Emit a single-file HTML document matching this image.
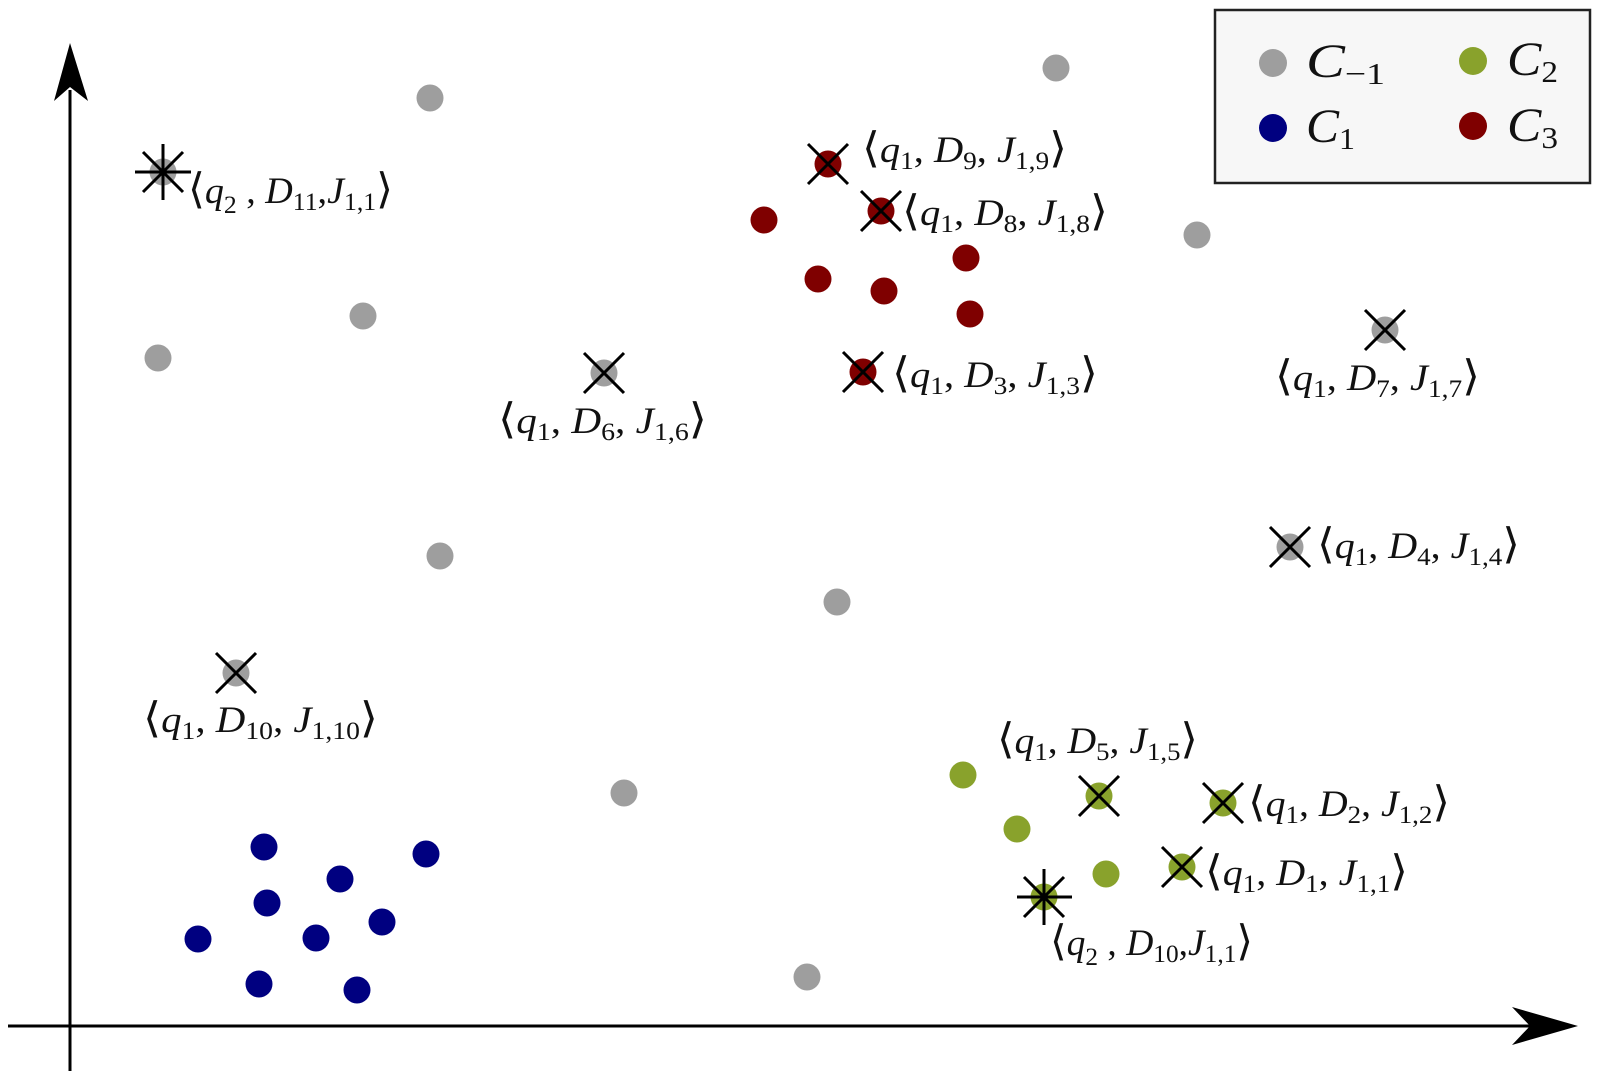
<!DOCTYPE html>
<html>
<head>
<meta charset="utf-8">
<style>
  html,body{margin:0;padding:0;background:#fff;}
  svg{display:block;}
  text{font-family:"Liberation Serif","DejaVu Serif",serif;font-size:37px;fill:#111;}
  .i{font-style:italic;}
  .s{font-size:25px;}
  .b{font-size:42px;}
  .L{font-size:48px;}
  .Ls{font-size:31px;}
</style>
</head>
<body>
<svg width="1600" height="1082" viewBox="0 0 1600 1082" xmlns="http://www.w3.org/2000/svg">
  <rect width="1600" height="1082" fill="#fff"/>

  <!-- Axes -->
  <line x1="70" y1="1071" x2="70" y2="90" stroke="#000" stroke-width="3"/>
  <polygon points="70,43 88,101 70,87 54,101" fill="#000"/>
  <line x1="8" y1="1026" x2="1535" y2="1026" stroke="#000" stroke-width="3"/>
  <polygon points="1578,1026 1512,1045 1530,1026 1512,1007" fill="#000"/>

  <!-- Legend -->
  <rect x="1215" y="10" width="375" height="173" fill="#f7f7f7" stroke="#222" stroke-width="2.5"/>
  <circle cx="1273" cy="63" r="14" fill="#9e9e9e"/>
  <circle cx="1473" cy="61" r="14" fill="#89a22c"/>
  <circle cx="1273" cy="128" r="14" fill="#000080"/>
  <circle cx="1473" cy="126" r="14" fill="#7f0000"/>
  <text x="1306" y="77" class="L" textLength="79" lengthAdjust="spacingAndGlyphs"><tspan class="i">C</tspan><tspan class="Ls" dy="7">−1</tspan></text>
  <text x="1507" y="75" class="L" textLength="51" lengthAdjust="spacingAndGlyphs"><tspan class="i">C</tspan><tspan class="Ls" dy="7">2</tspan></text>
  <text x="1306" y="142" class="L" textLength="49" lengthAdjust="spacingAndGlyphs"><tspan class="i">C</tspan><tspan class="Ls" dy="7">1</tspan></text>
  <text x="1507" y="141" class="L" textLength="51" lengthAdjust="spacingAndGlyphs"><tspan class="i">C</tspan><tspan class="Ls" dy="7">3</tspan></text>

  <!-- Gray points -->
  <g fill="#9e9e9e">
    <circle cx="430" cy="98" r="13.5"/>
    <circle cx="1056" cy="68" r="13.5"/>
    <circle cx="363" cy="316" r="13.5"/>
    <circle cx="158" cy="358" r="13.5"/>
    <circle cx="1197" cy="235" r="13.5"/>
    <circle cx="440" cy="556" r="13.5"/>
    <circle cx="837" cy="602" r="13.5"/>
    <circle cx="624" cy="793" r="13.5"/>
    <circle cx="807" cy="977" r="13.5"/>
    <circle cx="604" cy="373" r="13.5"/>
    <circle cx="1385" cy="330" r="13.5"/>
    <circle cx="1290" cy="547" r="13.5"/>
    <circle cx="236" cy="673" r="13.5"/>
    <circle cx="163" cy="172" r="13.5"/>
  </g>

  <!-- Red points -->
  <g fill="#7f0000">
    <circle cx="828" cy="164" r="13.5"/>
    <circle cx="881" cy="211" r="13.5"/>
    <circle cx="764" cy="220" r="13.5"/>
    <circle cx="966" cy="258" r="13.5"/>
    <circle cx="818" cy="279" r="13.5"/>
    <circle cx="884" cy="291" r="13.5"/>
    <circle cx="970" cy="314" r="13.5"/>
    <circle cx="863" cy="372" r="13.5"/>
  </g>

  <!-- Green points -->
  <g fill="#89a22c">
    <circle cx="963" cy="775" r="13.5"/>
    <circle cx="1099" cy="796" r="13.5"/>
    <circle cx="1223" cy="803" r="13.5"/>
    <circle cx="1017" cy="829" r="13.5"/>
    <circle cx="1106" cy="874" r="13.5"/>
    <circle cx="1182" cy="867" r="13.5"/>
    <circle cx="1044" cy="897" r="13.5"/>
  </g>

  <!-- Blue points -->
  <g fill="#000080">
    <circle cx="264" cy="847" r="13.5"/>
    <circle cx="426" cy="854" r="13.5"/>
    <circle cx="340" cy="879" r="13.5"/>
    <circle cx="267" cy="903" r="13.5"/>
    <circle cx="382" cy="922" r="13.5"/>
    <circle cx="198" cy="939" r="13.5"/>
    <circle cx="316" cy="938" r="13.5"/>
    <circle cx="259" cy="984" r="13.5"/>
    <circle cx="357" cy="990" r="13.5"/>
  </g>

  <!-- X markers -->
  <g stroke="#000" stroke-width="3" fill="none">
    <path d="M808,144 L848,184 M848,144 L808,184"/>
    <path d="M861,191 L901,231 M901,191 L861,231"/>
    <path d="M843,352 L883,392 M883,352 L843,392"/>
    <path d="M584,353 L624,393 M624,353 L584,393"/>
    <path d="M1365,310 L1405,350 M1405,310 L1365,350"/>
    <path d="M1270,527 L1310,567 M1310,527 L1270,567"/>
    <path d="M216,653 L256,693 M256,653 L216,693"/>
    <path d="M1079,776 L1119,816 M1119,776 L1079,816"/>
    <path d="M1203,783 L1243,823 M1243,783 L1203,823"/>
    <path d="M1162,847 L1202,887 M1202,847 L1162,887"/>
    <!-- star markers -->
    <path d="M135,172 L191,172 M163,144 L163,200 M143,152 L183,192 M183,152 L143,192"/>
    <path d="M1017,897 L1072,897 M1044,869 L1044,925 M1024,877 L1064,917 M1064,877 L1024,917"/>
  </g>

  <!-- Labels -->
  <text x="188" y="203" textLength="205" lengthAdjust="spacingAndGlyphs"><tspan class="b">⟨</tspan><tspan class="i">q</tspan><tspan class="s" dy="10">2</tspan><tspan dy="-10"> , </tspan><tspan class="i">D</tspan><tspan class="s" dy="7">11</tspan><tspan dy="-7">,</tspan><tspan class="i">J</tspan><tspan class="s" dy="7">1,1</tspan><tspan class="b" dy="-7">⟩</tspan></text>

  <text x="862" y="162" textLength="205" lengthAdjust="spacingAndGlyphs"><tspan class="b">⟨</tspan><tspan class="i">q</tspan><tspan class="s" dy="7">1</tspan><tspan dy="-7">, </tspan><tspan class="i">D</tspan><tspan class="s" dy="7">9</tspan><tspan dy="-7">, </tspan><tspan class="i">J</tspan><tspan class="s" dy="7">1,9</tspan><tspan class="b" dy="-7">⟩</tspan></text>

  <text x="902" y="225" textLength="206" lengthAdjust="spacingAndGlyphs"><tspan class="b">⟨</tspan><tspan class="i">q</tspan><tspan class="s" dy="7">1</tspan><tspan dy="-7">, </tspan><tspan class="i">D</tspan><tspan class="s" dy="7">8</tspan><tspan dy="-7">, </tspan><tspan class="i">J</tspan><tspan class="s" dy="7">1,8</tspan><tspan class="b" dy="-7">⟩</tspan></text>

  <text x="892" y="387" textLength="206" lengthAdjust="spacingAndGlyphs"><tspan class="b">⟨</tspan><tspan class="i">q</tspan><tspan class="s" dy="7">1</tspan><tspan dy="-7">, </tspan><tspan class="i">D</tspan><tspan class="s" dy="7">3</tspan><tspan dy="-7">, </tspan><tspan class="i">J</tspan><tspan class="s" dy="7">1,3</tspan><tspan class="b" dy="-7">⟩</tspan></text>

  <text x="498" y="433" textLength="209" lengthAdjust="spacingAndGlyphs"><tspan class="b">⟨</tspan><tspan class="i">q</tspan><tspan class="s" dy="7">1</tspan><tspan dy="-7">, </tspan><tspan class="i">D</tspan><tspan class="s" dy="7">6</tspan><tspan dy="-7">, </tspan><tspan class="i">J</tspan><tspan class="s" dy="7">1,6</tspan><tspan class="b" dy="-7">⟩</tspan></text>

  <text x="1275" y="390" textLength="205" lengthAdjust="spacingAndGlyphs"><tspan class="b">⟨</tspan><tspan class="i">q</tspan><tspan class="s" dy="7">1</tspan><tspan dy="-7">, </tspan><tspan class="i">D</tspan><tspan class="s" dy="7">7</tspan><tspan dy="-7">, </tspan><tspan class="i">J</tspan><tspan class="s" dy="7">1,7</tspan><tspan class="b" dy="-7">⟩</tspan></text>

  <text x="1317" y="558" textLength="203" lengthAdjust="spacingAndGlyphs"><tspan class="b">⟨</tspan><tspan class="i">q</tspan><tspan class="s" dy="7">1</tspan><tspan dy="-7">, </tspan><tspan class="i">D</tspan><tspan class="s" dy="7">4</tspan><tspan dy="-7">, </tspan><tspan class="i">J</tspan><tspan class="s" dy="7">1,4</tspan><tspan class="b" dy="-7">⟩</tspan></text>

  <text x="143" y="732" textLength="235" lengthAdjust="spacingAndGlyphs"><tspan class="b">⟨</tspan><tspan class="i">q</tspan><tspan class="s" dy="7">1</tspan><tspan dy="-7">, </tspan><tspan class="i">D</tspan><tspan class="s" dy="7">10</tspan><tspan dy="-7">, </tspan><tspan class="i">J</tspan><tspan class="s" dy="7">1,10</tspan><tspan class="b" dy="-7">⟩</tspan></text>

  <text x="997" y="753" textLength="201" lengthAdjust="spacingAndGlyphs"><tspan class="b">⟨</tspan><tspan class="i">q</tspan><tspan class="s" dy="7">1</tspan><tspan dy="-7">, </tspan><tspan class="i">D</tspan><tspan class="s" dy="7">5</tspan><tspan dy="-7">, </tspan><tspan class="i">J</tspan><tspan class="s" dy="7">1,5</tspan><tspan class="b" dy="-7">⟩</tspan></text>

  <text x="1248" y="816" textLength="202" lengthAdjust="spacingAndGlyphs"><tspan class="b">⟨</tspan><tspan class="i">q</tspan><tspan class="s" dy="7">1</tspan><tspan dy="-7">, </tspan><tspan class="i">D</tspan><tspan class="s" dy="7">2</tspan><tspan dy="-7">, </tspan><tspan class="i">J</tspan><tspan class="s" dy="7">1,2</tspan><tspan class="b" dy="-7">⟩</tspan></text>

  <text x="1205" y="885" textLength="203" lengthAdjust="spacingAndGlyphs"><tspan class="b">⟨</tspan><tspan class="i">q</tspan><tspan class="s" dy="7">1</tspan><tspan dy="-7">, </tspan><tspan class="i">D</tspan><tspan class="s" dy="7">1</tspan><tspan dy="-7">, </tspan><tspan class="i">J</tspan><tspan class="s" dy="7">1,1</tspan><tspan class="b" dy="-7">⟩</tspan></text>

  <text x="1050" y="955" textLength="203" lengthAdjust="spacingAndGlyphs"><tspan class="b">⟨</tspan><tspan class="i">q</tspan><tspan class="s" dy="10">2</tspan><tspan dy="-10"> , </tspan><tspan class="i">D</tspan><tspan class="s" dy="7">10</tspan><tspan dy="-7">,</tspan><tspan class="i">J</tspan><tspan class="s" dy="7">1,1</tspan><tspan class="b" dy="-7">⟩</tspan></text>
</svg>
</body>
</html>
